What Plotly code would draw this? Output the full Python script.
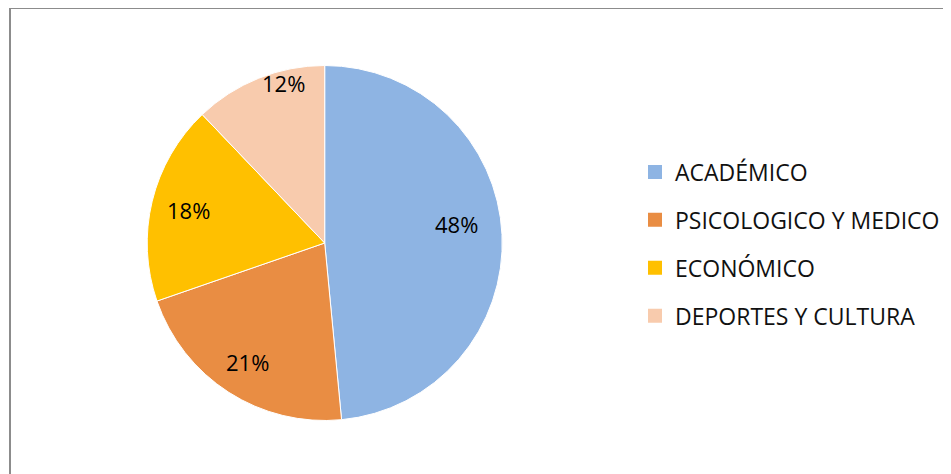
import math
import plotly.graph_objects as go

categories = ["ACADÉMICO", "PSICOLOGICO Y MEDICO", "ECONÓMICO", "DEPORTES Y CULTURA"]
counts = [16, 7, 6, 4]
colors = ["#8EB4E3", "#E98D43", "#FFC000", "#F8CBAD"]
label_radius = [0.753, 0.80, 0.79, 0.93]      # style: radial placement of % labels
label_angle_shift = [-5.6, 0.0, 0.0, 7.3]     # style: angular nudge of % labels (deg)

# page body has an 8px margin, so the figure fills the rest of the 951x474 window
W, H = 943, 466
cx, cy, R = 316.7, 235, 177.5  # pie centre / radius in figure pixels

dom_x = [(cx - R) / W, (cx + R) / W]
dom_y = [1 - (cy + R) / H, 1 - (cy - R) / H]

fig = go.Figure()
fig.add_trace(go.Pie(
    labels=categories,
    values=counts,
    sort=False,
    direction="clockwise",
    rotation=0,
    marker=dict(colors=colors, line=dict(color="white", width=1)),
    textinfo="none",
    showlegend=False,
    hoverinfo="label+percent",
    domain=dict(x=dom_x, y=dom_y),
))

# percentage labels placed around each slice's mid-angle (computed from the data)
total = sum(counts)
cum = 0
annotations = []
for v, rf, sh in zip(counts, label_radius, label_angle_shift):
    mid = (cum + v / 2) / total * 2 * math.pi + math.radians(sh)
    cum += v
    px = cx + rf * R * math.sin(mid)
    py = cy - rf * R * math.cos(mid)
    annotations.append(dict(
        x=px / W, y=1 - py / H, xref="paper", yref="paper",
        text=f"{round(100 * v / total)}%", showarrow=False,
        font=dict(family="Open Sans", size=22, color="#000000"),
        xanchor="center", yanchor="middle",
    ))

for i, (name, col) in enumerate(zip(categories, colors)):
    fig.add_trace(go.Scatter(
        x=[None], y=[None], mode="markers", name=name,
        marker=dict(symbol="square", size=14, color=col),
        legendgroup=f"g{i}", showlegend=True,
    ))

fig.update_layout(
    width=W, height=H,
    margin=dict(l=0, r=0, t=0, b=0),
    paper_bgcolor="white", plot_bgcolor="white",
    xaxis=dict(visible=False), yaxis=dict(visible=False),
    font=dict(family="Open Sans", size=23, color="#111111"),
    legend=dict(
        x=627 / W, y=1 - 142.5 / H, xanchor="left", yanchor="top",
        tracegroupgap=15, traceorder="grouped",
        font=dict(family="Open Sans", size=23, color="#111111"),
        bgcolor="rgba(0,0,0,0)",
    ),
    annotations=annotations,
    shapes=[dict(type="rect", xref="paper", yref="paper",
                 x0=2 / W, x1=1.02, y0=-0.02, y1=1.0,
                 line=dict(color="#8c8c8c", width=2), fillcolor="rgba(0,0,0,0)", layer="below")],
)

fig.write_html("out.html")
